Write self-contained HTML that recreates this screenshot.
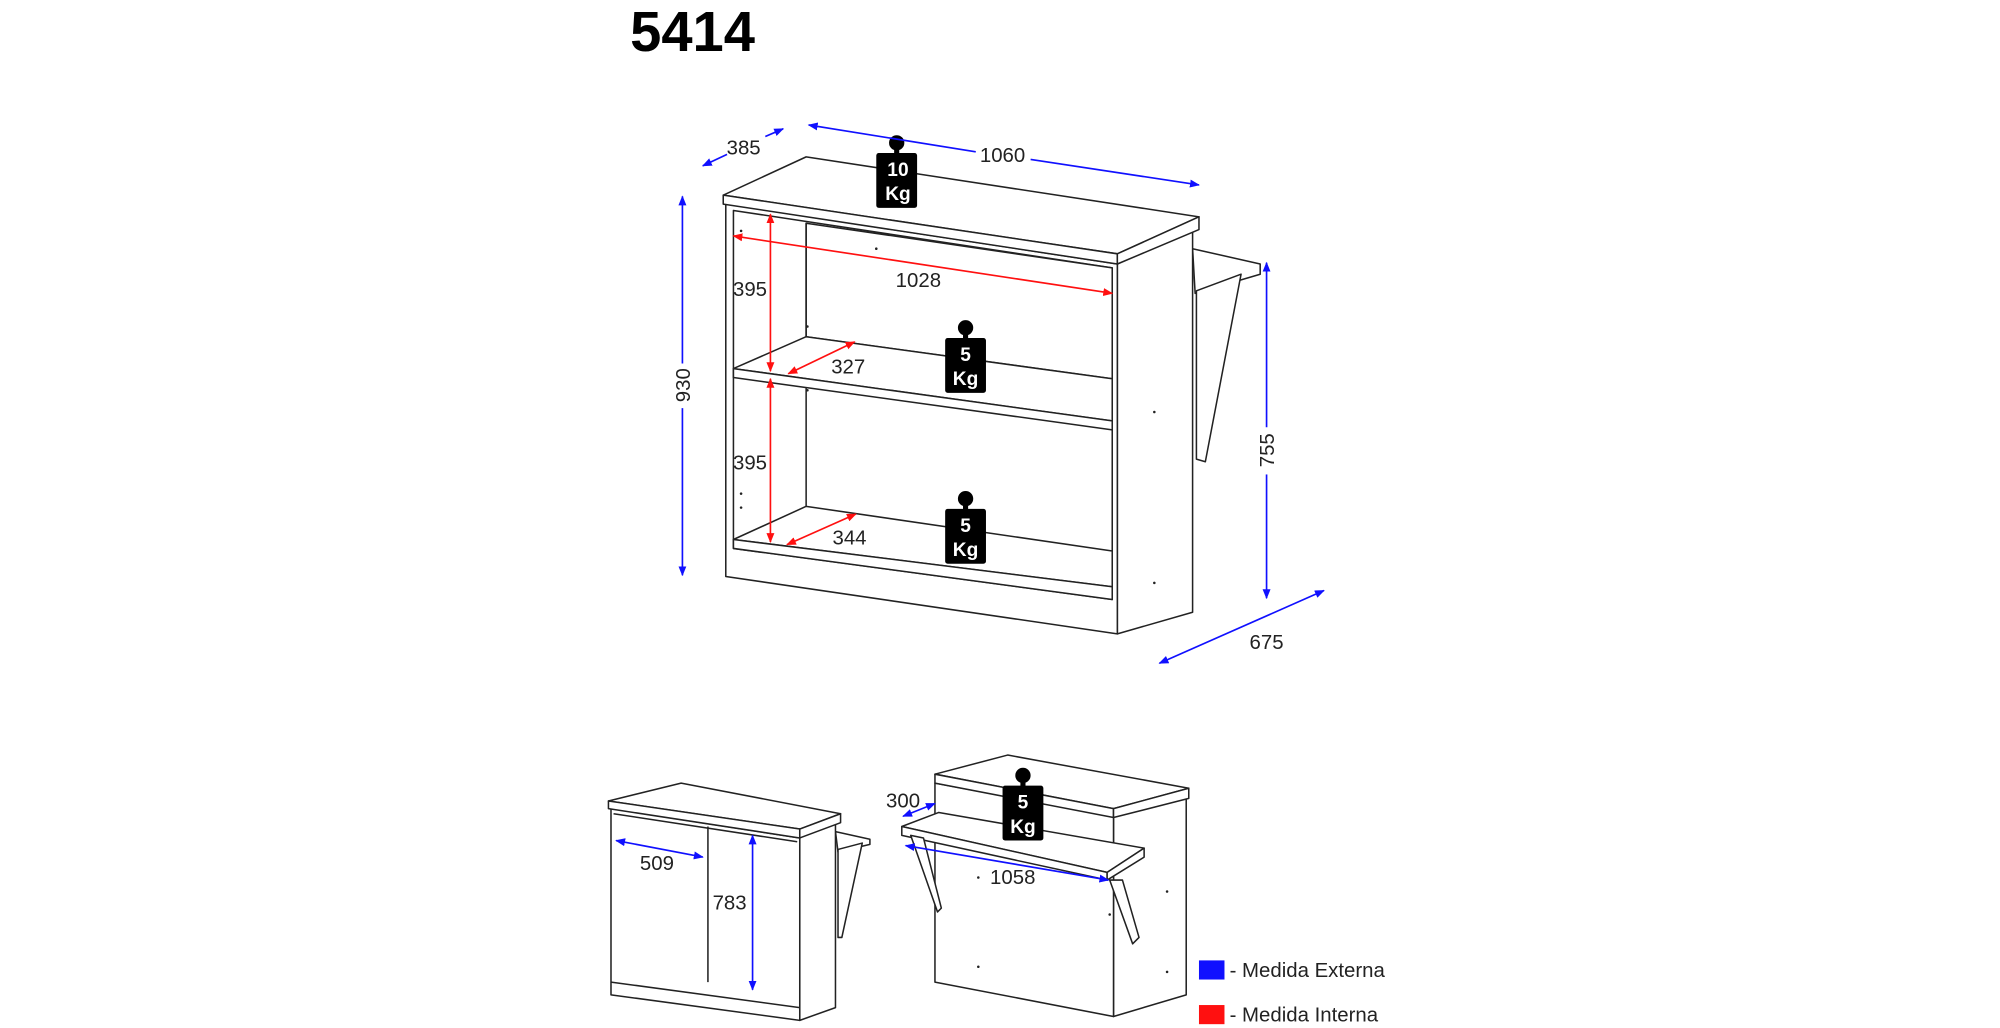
<!DOCTYPE html>
<html><head><meta charset="utf-8"><style>html,body{margin:0;padding:0;background:#fff}svg{display:block}</style></head><body>
<svg width="2000" height="1028" viewBox="0 0 1568 806" xmlns="http://www.w3.org/2000/svg" font-family="Liberation Sans, sans-serif">
<defs>
<marker id="ab" viewBox="0 0 10 10" refX="9" refY="5" markerWidth="6" markerHeight="6" orient="auto-start-reverse"><path d="M0,1 L10,5 L0,9 z" fill="#1010ff"/></marker>
<marker id="ar" viewBox="0 0 10 10" refX="9" refY="5" markerWidth="6" markerHeight="6" orient="auto-start-reverse"><path d="M0,1 L10,5 L0,9 z" fill="#ff1010"/></marker>
<g id="wt"><circle cx="0" cy="0" r="6" fill="#000"/><rect x="-2" y="4" width="4" height="6" fill="#000"/><rect x="-16" y="8" width="32" height="43" rx="2" fill="#000"/></g>
</defs>
<text x="494" y="40" font-size="44" font-weight="bold">5414</text>

<g fill="#fff" stroke="#222" stroke-width="1.2" stroke-linejoin="round">
<polygon points="935,195 988,207 988,215 937,230"/>
<polygon points="938,228 973,215 945,362 938,360"/>
<polygon points="876,207 935,180 935,480 876,497"/>
<polygon points="569,160 876,207 876,497 569,452"/>
<polygon points="575,165 872,210 872,470 575,430"/>
<polygon points="632,175 872,210 872,297 632,264"/>
<polyline points="632,175 632,397" fill="none"/>
<polygon points="575,289 632,264 872,297 872,330"/>
<polygon points="575,289 872,330 872,337 575,296"/>
<polygon points="575,423 632,397 872,432 872,460"/>
<polygon points="575,423 872,460 872,470 575,430"/>
<polygon points="567,153 632,123 940,170 876,199"/>
<polygon points="567,153 876,199 876,207 567,160"/>
<polygon points="876,199 940,170 940,180 876,207"/>
</g>
<g fill="#222"><circle cx="581" cy="181" r="1"/><circle cx="687" cy="195" r="1"/><circle cx="633" cy="256" r="1"/><circle cx="633" cy="306" r="1"/><circle cx="581" cy="387" r="1"/><circle cx="581" cy="398" r="1"/><circle cx="905" cy="323" r="1"/><circle cx="905" cy="457" r="1"/></g>

<use href="#wt" x="703" y="112"/>
<text x="704" y="138" font-size="15" font-weight="bold" fill="#fff" text-anchor="middle">10</text>
<text x="704" y="157" font-size="15" font-weight="bold" fill="#fff" text-anchor="middle">Kg</text>
<use href="#wt" x="757" y="257"/>
<text x="757" y="283" font-size="15" font-weight="bold" fill="#fff" text-anchor="middle">5</text>
<text x="757" y="302" font-size="15" font-weight="bold" fill="#fff" text-anchor="middle">Kg</text>
<use href="#wt" x="757" y="391"/>
<text x="757" y="417" font-size="15" font-weight="bold" fill="#fff" text-anchor="middle">5</text>
<text x="757" y="436" font-size="15" font-weight="bold" fill="#fff" text-anchor="middle">Kg</text>

<g stroke="#1010ff" stroke-width="1.3" fill="none">
<line x1="551" y1="130" x2="570" y2="121" marker-start="url(#ab)"/><line x1="600" y1="107" x2="614" y2="101" marker-end="url(#ab)"/>
<line x1="634" y1="98" x2="765" y2="119" marker-start="url(#ab)"/><line x1="808" y1="125" x2="940" y2="145" marker-end="url(#ab)"/>
<line x1="535" y1="154" x2="535" y2="285" marker-start="url(#ab)"/><line x1="535" y1="320" x2="535" y2="451" marker-end="url(#ab)"/>
<line x1="993" y1="206" x2="993" y2="335" marker-start="url(#ab)"/><line x1="993" y1="372" x2="993" y2="469" marker-end="url(#ab)"/>
<line x1="909" y1="520" x2="1038" y2="463" marker-start="url(#ab)" marker-end="url(#ab)"/>
</g>
<g font-size="16" fill="#222">
<text x="583" y="121" text-anchor="middle">385</text>
<text x="786" y="127" text-anchor="middle">1060</text>
<text transform="translate(541,302) rotate(-90)" text-anchor="middle">930</text>
<text transform="translate(999,353) rotate(-90)" text-anchor="middle">755</text>
<text x="993" y="509" text-anchor="middle">675</text>
</g>
<g stroke="#ff1010" stroke-width="1.3" fill="none">
<line x1="575" y1="185" x2="872" y2="230" marker-start="url(#ar)" marker-end="url(#ar)"/>
<line x1="604" y1="168" x2="604" y2="291" marker-start="url(#ar)" marker-end="url(#ar)"/>
<line x1="604" y1="297" x2="604" y2="425" marker-start="url(#ar)" marker-end="url(#ar)"/>
<line x1="618" y1="293" x2="670" y2="268" marker-start="url(#ar)" marker-end="url(#ar)"/>
<line x1="617" y1="427" x2="671" y2="403" marker-start="url(#ar)" marker-end="url(#ar)"/>
</g>
<g font-size="16" fill="#222">
<text x="720" y="225" text-anchor="middle">1028</text>
<text x="588" y="232" text-anchor="middle">395</text>
<text x="588" y="368" text-anchor="middle">395</text>
<text x="665" y="293" text-anchor="middle">327</text>
<text x="666" y="427" text-anchor="middle">344</text>
</g>

<g fill="#fff" stroke="#222" stroke-width="1.2" stroke-linejoin="round">
<polygon points="655,652 682,658 682,662 657,668"/>
<polygon points="657,666 676,661 660,735 657,735"/>
<polygon points="627,657 655,642 655,790 627,800"/>
<polygon points="479,634 627,657 627,800 479,780"/>
<line x1="555" y1="648" x2="555" y2="770"/>
<line x1="479" y1="770" x2="627" y2="790"/>
<line x1="481" y1="638" x2="625" y2="660"/>
<polygon points="477,628 534,614 659,638 627,650"/>
<polygon points="477,628 627,650 627,657 477,634"/>
<polygon points="627,650 659,638 659,645 627,657"/>
</g>
<g stroke="#1010ff" stroke-width="1.3" fill="none">
<line x1="483" y1="659" x2="551" y2="672" marker-start="url(#ab)" marker-end="url(#ab)"/>
<line x1="590" y1="655" x2="590" y2="776" marker-start="url(#ab)" marker-end="url(#ab)"/>
</g>
<g font-size="16" fill="#222"><text x="515" y="682" text-anchor="middle">509</text><text x="572" y="713" text-anchor="middle">783</text></g>

<g fill="#fff" stroke="#222" stroke-width="1.2" stroke-linejoin="round">
<polygon points="873,640 930,626 930,780 873,797"/>
<polygon points="733,614 873,640 873,797 733,770"/>
<polygon points="707,648 736,637 897,665 868,684"/>
<polygon points="707,648 868,684 868,690 707,655"/>
<polygon points="868,684 897,665 897,672 868,690"/>
<polygon points="714,655 724,657 738,712 735,715"/>
<polygon points="870,690 880,690 893,735 888,740"/>
<polygon points="733,607 790,592 932,618 873,634"/>
<polygon points="733,607 873,634 873,641 733,614"/>
<polygon points="873,634 932,618 932,626 873,641"/>
</g>
<g fill="#222"><circle cx="767" cy="688" r="1"/><circle cx="915" cy="699" r="1"/><circle cx="767" cy="758" r="1"/><circle cx="915" cy="762" r="1"/><circle cx="870" cy="717" r="1"/></g>
<use href="#wt" x="802" y="608"/>
<text x="802" y="634" font-size="15" font-weight="bold" fill="#fff" text-anchor="middle">5</text>
<text x="802" y="653" font-size="15" font-weight="bold" fill="#fff" text-anchor="middle">Kg</text>
<g stroke="#1010ff" stroke-width="1.3" fill="none">
<line x1="708" y1="640" x2="733" y2="630" marker-start="url(#ab)" marker-end="url(#ab)"/>
<line x1="710" y1="663" x2="869" y2="690" marker-start="url(#ab)" marker-end="url(#ab)"/>
</g>
<g font-size="16" fill="#222"><text x="708" y="633" text-anchor="middle">300</text><text x="794" y="693" text-anchor="middle">1058</text></g>

<rect x="940" y="753" width="20" height="15" fill="#1010ff"/>
<text x="964" y="766" font-size="16" fill="#222">- Medida Externa</text>
<rect x="940" y="788" width="20" height="15" fill="#ff1010"/>
<text x="964" y="801" font-size="16" fill="#222">- Medida Interna</text>
</svg>
</body></html>
